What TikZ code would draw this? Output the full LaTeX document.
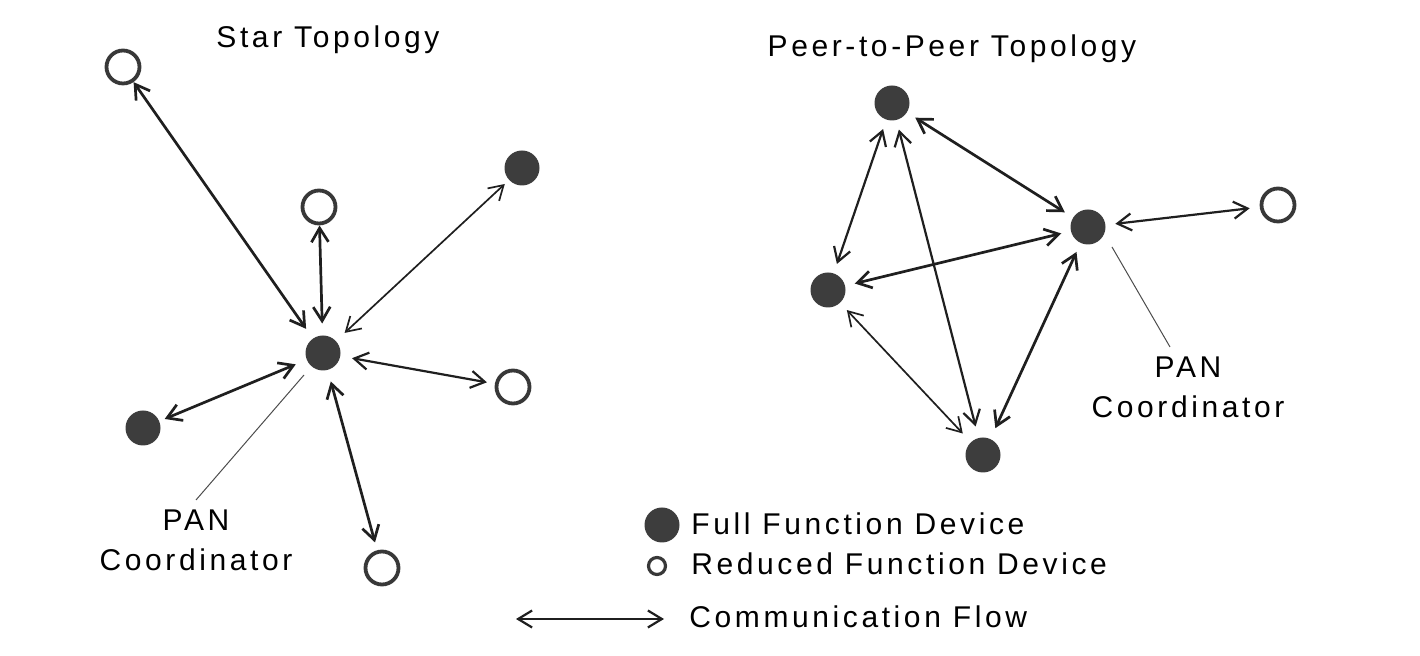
\documentclass[tikz,border=0pt]{standalone}
\usepackage{fontspec}
\setmainfont[LetterSpace=12]{Liberation Sans}
\usetikzlibrary{arrows.meta}

\begin{document}
\begin{tikzpicture}[x=0.5pt, y=-0.5pt,
    txt/.style={font=\fontsize{15pt}{20pt}\selectfont, inner sep=0pt},
    ffd/.style={circle, fill=black!76, inner sep=0pt, minimum size=17.5pt, outer sep=3pt},
    rfd/.style={circle, draw=black!78, line width=1.9pt, inner sep=0pt, minimum size=16.5pt, outer sep=1pt},
    flow/.style={{Straight Barb[length=7pt,width=8.5pt]}-{Straight Barb[length=7pt,width=8.5pt]}, line width=1.35pt, black!88},
    midflow/.style={flow, line width=1.1pt},
    thinflow/.style={flow, line width=0.85pt},
    leader/.style={black!70, line width=0.5pt}]

    \useasboundingbox (0,0) rectangle (1420,656);

    \node[txt, anchor=base] (startitle) at (328,48) {Star Topology};
    \node[txt, anchor=base] (peertitle) at (952,57) {Peer-to-Peer Topology};

    \node[rfd] (s1) at (123,67) {};
    \node[rfd] (s2) at (319,207) {};
    \node[ffd] (s3) at (522,168) {};
    \node[ffd, outer sep=6pt] (shub) at (323,353) {};
    \node[rfd, outer sep=5pt] (s4) at (513,387) {};
    \node[ffd] (s5) at (143,428) {};
    \node[rfd, outer sep=5pt] (s6) at (382,568) {};

    \draw[flow] (shub) -- (s1);
    \draw[flow] (shub) -- (s2);
    \draw[thinflow] (shub) -- (s3);
    \draw[midflow] (shub) -- (s4);
    \draw[flow] (shub) -- (s5);
    \draw[flow] (shub) -- (s6);

    \node[txt, align=center, anchor=north, outer sep=5pt] (starpan) at (196,500) {PAN\\Coordinator};
    \draw[leader] (shub) ++(-19,22) coordinate (sleader) -- (starpan.north);

    \node[ffd, outer sep=5pt] (p1) at (892,103) {};
    \node[ffd, outer sep=5pt] (phub) at (1088,227) {};
    \node[rfd, outer sep=6pt] (p3) at (1278,205) {};
    \node[ffd, outer sep=5pt] (p4) at (828,290) {};
    \node[ffd, outer sep=6pt] (p5) at (983,455) {};

    \draw[midflow] (p1) -- (p4);
    \draw[midflow] (p1) -- (p5);
    \draw[flow] (p1) -- (phub);
    \draw[flow] (p4) -- (phub);
    \draw[flow] (phub) -- (p5);
    \draw[thinflow] (p4) -- (p5);
    \draw[midflow] (phub) -- (p3);

    \node[txt, align=center, anchor=north, outer sep=5pt] (peerpan) at (1188,347) {PAN\\Coordinator};
    \draw[leader] (phub) ++(24,20) coordinate (pleader) -- ([xshift=-9pt]peerpan.north);

    \node[ffd, outer sep=0pt] (keyffd) at (662,525) {};
    \node[rfd, line width=1.6pt, minimum size=8.5pt, outer sep=0pt] (keyrfd) at (657,566) {};
    \coordinate (keyl) at (516,619);
    \coordinate (keyr) at (664,619);
    \draw[midflow] (keyl) -- (keyr);

    \node[txt, anchor=base west] (keyffdtext) at (691,535) {Full Function Device};
    \node[txt, anchor=base west] (keyrfdtext) at (691,575) {Reduced Function Device};
    \node[txt, anchor=base west] (keyflowtext) at (689,628) {Communication Flow};

\end{tikzpicture}
\end{document}
